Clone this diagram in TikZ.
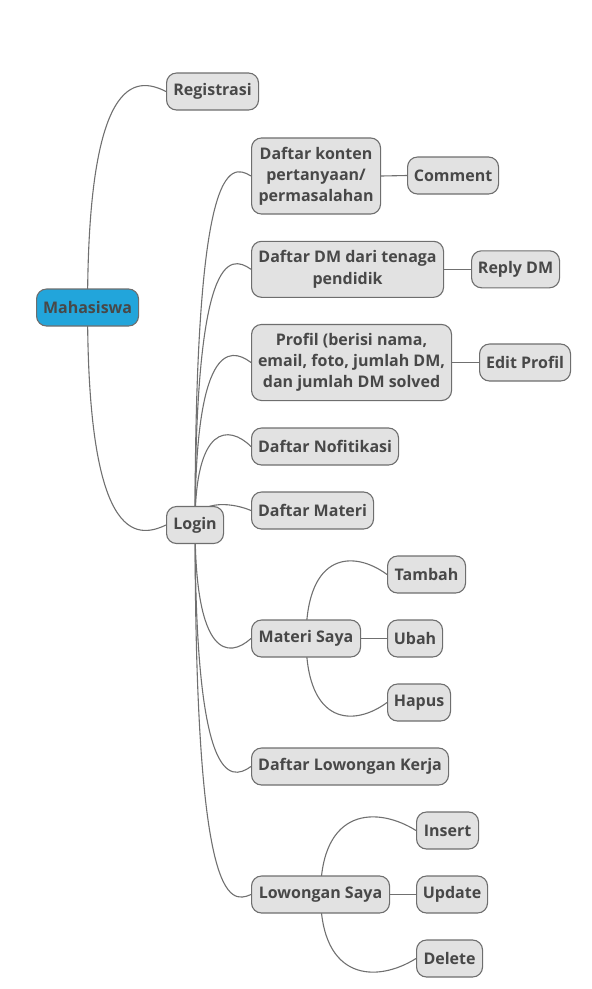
\documentclass[tikz,border=0pt]{standalone}
\usepackage{fontspec}
\setmainfont{Open Sans}
\usetikzlibrary{calc,backgrounds}
\definecolor{boxfill}{HTML}{E2E2E2}
\definecolor{boxline}{HTML}{6E6E6E}
\definecolor{txt}{HTML}{484848}
\definecolor{conncol}{HTML}{707070}
\definecolor{rootfill}{HTML}{22A5DB}
\newcommand{\fing}[3]{\draw[conn] (#1.center) .. controls ($(#1.center |- #2.west)+(0,#3)$) and ($(#1.center |- #2.west)!0.6!(#2.west)+(0,#3)$) .. (#2.west);}
\begin{document}
\begin{tikzpicture}[x=1pt,y=-1pt,
  box/.style={draw=boxline, fill=boxfill, rounded corners=10pt, line width=1.1pt, text=txt,
    font=\fontsize{16}{21.2}\selectfont\bfseries, align=center, minimum height=37pt,
    inner xsep=2pt, inner ysep=8.8pt, anchor=west},
  root/.style={box, fill=rootfill},
  conn/.style={draw=conncol, line width=1.1pt}]
\path[use as bounding box] (0,0) rectangle (592,989);
\node[root, minimum width=102pt] (mah) at (36,307.5) {Mahasiswa};
\node[box, minimum width=92pt] (reg) at (166,91.5) {Registrasi};
\node[box, minimum width=57pt] (login) at (166,525) {Login};
\node[box, minimum width=129pt] (konten) at (251,176) {Daftar konten\\pertanyaan/\\permasalahan};
\node[box, minimum width=91pt] (comment) at (407,175.5) {Comment};
\node[box, minimum width=192pt, minimum height=56pt] (dm) at (251,269.3) {Daftar DM dari tenaga\\pendidik};
\node[box, minimum width=88pt] (reply) at (471,269.3) {Reply DM};
\node[box, minimum width=200pt] (profil) at (251,362.5) {Profil (berisi nama,\\email, foto, jumlah DM,\\dan jumlah DM solved};
\node[box, minimum width=91pt] (edit) at (479,362.5) {Edit Profil};
\node[box, minimum width=147pt] (nofit) at (251,446.5) {Daftar Nofitikasi};
\node[box, minimum width=122pt] (dmateri) at (251,510.5) {Daftar Materi};
\node[box, minimum width=109pt] (msaya) at (251,638.5) {Materi Saya};
\node[box, minimum width=78pt] (tambah) at (387,574.5) {Tambah};
\node[box, minimum width=55pt] (ubah) at (387,638.5) {Ubah};
\node[box, minimum width=63pt] (hapus) at (387,702.5) {Hapus};
\node[box, minimum width=197pt] (dlk) at (251,766.5) {Daftar Lowongan Kerja};
\node[box, minimum width=138pt] (lsaya) at (251,894.5) {Lowongan Saya};
\node[box, minimum width=62pt] (insert) at (416,830.5) {Insert};
\node[box, minimum width=71pt] (update) at (416,894.5) {Update};
\node[box, minimum width=66pt] (delete) at (416,958.5) {Delete};
\begin{scope}[on background layer]
\fing{mah}{reg}{-16}
\fing{mah}{login}{15}
\fing{login}{konten}{-14}
\fing{login}{dm}{-16}
\fing{login}{profil}{-17}
\fing{login}{nofit}{-22}
\fing{login}{dmateri}{-9.5}
\fing{login}{msaya}{20}
\fing{login}{dlk}{16}
\fing{login}{lsaya}{10}
\fing{msaya}{tambah}{-24}
\fing{msaya}{hapus}{24}
\fing{lsaya}{insert}{-24}
\fing{lsaya}{delete}{24}
\draw[conn] (konten.east) -- (comment.west);
\draw[conn] (dm.east) -- (reply.west);
\draw[conn] (profil.east) -- (edit.west);
\draw[conn] (msaya.east) -- (ubah.west);
\draw[conn] (lsaya.east) -- (update.west);
\end{scope}
\end{tikzpicture}
\end{document}
